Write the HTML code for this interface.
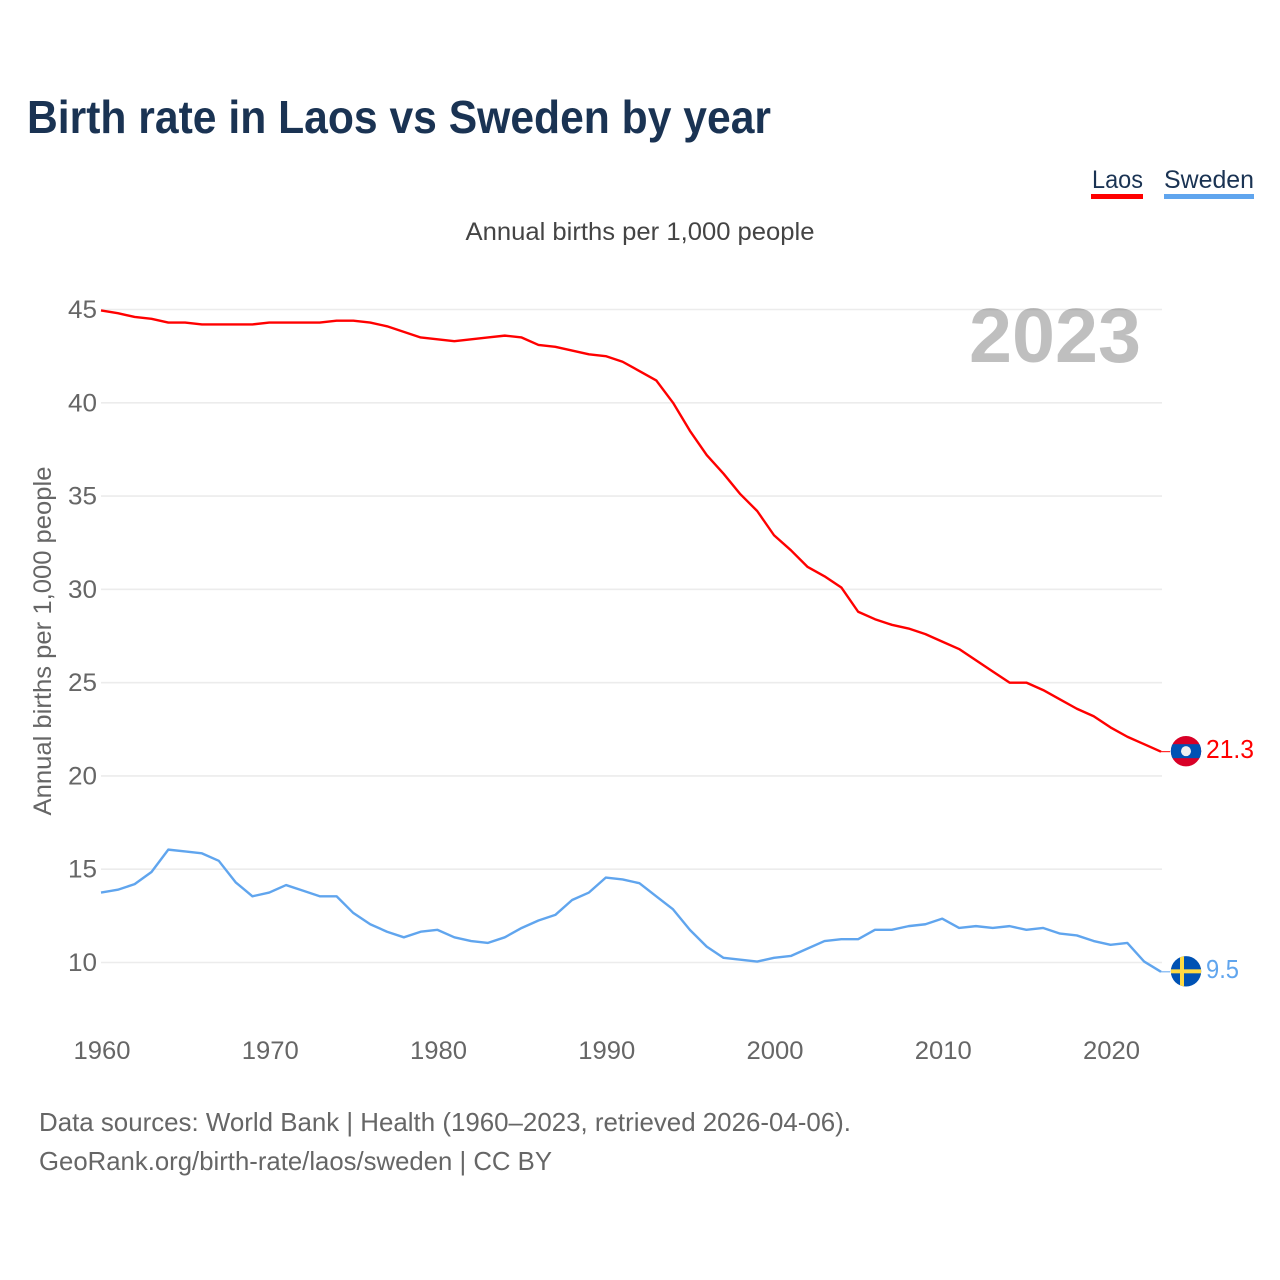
<!DOCTYPE html>
<html lang="en">
<head>
<meta charset="utf-8">
<title>Birth rate in Laos vs Sweden by year</title>
<style>
html,body{margin:0;padding:0;background:#fff;width:1280px;height:1280px;overflow:hidden}
svg{display:block}
text{font-family:"Liberation Sans",sans-serif}
</style>
</head>
<body>
<svg id="chart" width="1280" height="1280" viewBox="0 0 1280 1280" xmlns="http://www.w3.org/2000/svg">
  <rect width="1280" height="1280" fill="#fff"/>
  <text x="27" y="133" font-size="46" font-weight="700" fill="#1a3353" textLength="744" lengthAdjust="spacingAndGlyphs">Birth rate in Laos vs Sweden by year</text>
  <g>
    <g>
      <text x="1092" y="188" font-size="25" fill="#1a3353" textLength="51" lengthAdjust="spacingAndGlyphs">Laos</text>
      <rect x="1091" y="194" width="52" height="5" fill="#ff0000"/>
    </g>
    <g>
      <text x="1164" y="188" font-size="25" fill="#1a3353" textLength="90" lengthAdjust="spacingAndGlyphs">Sweden</text>
      <rect x="1164" y="194" width="90" height="5" fill="#60a5ee"/>
    </g>
  </g>
  <text x="640" y="240" font-size="25" fill="#444" text-anchor="middle" textLength="349" lengthAdjust="spacingAndGlyphs">Annual births per 1,000 people</text>
  <text transform="translate(51,641) rotate(-90)" font-size="25" fill="#666" text-anchor="middle" textLength="349" lengthAdjust="spacingAndGlyphs">Annual births per 1,000 people</text>
  <g id="grid"></g>
  <text x="1141" y="362" font-size="77" font-weight="700" fill="#000" fill-opacity="0.25" text-anchor="end" textLength="172" lengthAdjust="spacingAndGlyphs">2023</text>
  <g id="yticks"></g>
  <g id="xticks"></g>
  <g id="series"></g>
  <g id="ends"></g>
  <text x="39" y="1131" font-size="26" fill="#666" textLength="812" lengthAdjust="spacingAndGlyphs">Data sources: World Bank | Health (1960–2023, retrieved 2026-04-06).</text>
  <text x="39" y="1170" font-size="26" fill="#666" textLength="513" lengthAdjust="spacingAndGlyphs">GeoRank.org/birth-rate/laos/sweden | CC BY</text>
</svg>
<script>
const startYear = 1960;
const yTickValues = [10, 15, 20, 25, 30, 35, 40, 45];
const xTickValues = [1960, 1970, 1980, 1990, 2000, 2010, 2020];
const laosValues = [44.95,44.8,44.6,44.5,44.3,44.3,44.2,44.2,44.2,44.2,44.3,44.3,44.3,44.3,44.4,44.4,44.3,44.1,43.8,43.5,43.4,43.3,43.4,43.5,43.6,43.5,43.1,43.0,42.8,42.6,42.5,42.2,41.7,41.2,40.0,38.5,37.2,36.2,35.1,34.2,32.9,32.1,31.2,30.7,30.1,28.8,28.4,28.1,27.9,27.6,27.2,26.8,26.2,25.6,25.0,25.0,24.6,24.1,23.6,23.2,22.6,22.1,21.7,21.3];
const swedenValues = [13.75,13.9,14.2,14.85,16.05,15.95,15.85,15.45,14.3,13.55,13.75,14.15,13.85,13.55,13.55,12.65,12.05,11.65,11.35,11.65,11.75,11.35,11.15,11.05,11.35,11.85,12.25,12.55,13.35,13.75,14.55,14.45,14.25,13.55,12.85,11.75,10.85,10.25,10.15,10.05,10.25,10.35,10.75,11.15,11.25,11.25,11.75,11.75,11.95,12.05,12.35,11.85,11.95,11.85,11.95,11.75,11.85,11.55,11.45,11.15,10.95,11.05,10.05,9.5];

const NS = 'http://www.w3.org/2000/svg';
function xScale(year) { return 101 + (year - 1960) * (1060 / 63); }
function yScale(v) { return 962.5 - (v - 10) * (653 / 35); }
function make(tag, attrs, parent, text) {
  const el = document.createElementNS(NS, tag);
  for (const k in attrs) el.setAttribute(k, attrs[k]);
  if (text !== undefined) el.textContent = text;
  parent.appendChild(el);
  return el;
}

const grid = document.getElementById('grid');
const yticks = document.getElementById('yticks');
const xticks = document.getElementById('xticks');
const series = document.getElementById('series');
const ends = document.getElementById('ends');

yTickValues.forEach(function (v) {
  const line = make('line', {x1: 101, x2: 1162, y1: yScale(v), y2: yScale(v), stroke: '#ececec', 'stroke-width': 1.6}, grid);
  
  
  const label = make('text', {x: 97, y: yScale(v) + 8.5, 'font-size': 25, fill: '#666', 'text-anchor': 'end', textLength: 29, lengthAdjust: 'spacingAndGlyphs'}, yticks, String(v));
  
  
});

xTickValues.forEach(function (year) {
  const label = make('text', {x: xScale(year) + 1, y: 1059, 'font-size': 25, fill: '#666', 'text-anchor': 'middle', textLength: 57, lengthAdjust: 'spacingAndGlyphs'}, xticks, String(year));
  
  
});

function pathFor(values) {
  return values.map(function (v, i) {
    return (i ? 'L' : 'M') + xScale(startYear + i).toFixed(2) + ' ' + yScale(v).toFixed(2);
  }).join(' ');
}

const laosLine = make('path', {d: pathFor(laosValues), fill: 'none', stroke: '#ff0000', 'stroke-width': 2.4, 'stroke-linejoin': 'round'}, series);


const swedenLine = make('path', {d: pathFor(swedenValues), fill: 'none', stroke: '#60a5ee', 'stroke-width': 2.4, 'stroke-linejoin': 'round'}, series);



const lastX = xScale(startYear + laosValues.length - 1);
const flagX = lastX + 25;
const laosLast = laosValues[laosValues.length - 1];
const swedenLast = swedenValues[swedenValues.length - 1];
const ly = yScale(laosLast);
const sy = yScale(swedenLast);

const laosConnector = make('line', {x1: lastX, x2: lastX + 9, y1: ly, y2: ly, stroke: '#ff0000', 'stroke-width': 1}, ends);


const swedenConnector = make('line', {x1: lastX, x2: lastX + 9, y1: sy, y2: sy, stroke: '#60a5ee', 'stroke-width': 1}, ends);



const clips = make('defs', {}, ends);
const c1 = make('clipPath', {id: 'clip-laos'}, clips);
make('circle', {cx: flagX, cy: ly - 0.5, r: 15.2}, c1);
const c2 = make('clipPath', {id: 'clip-sweden'}, clips);
make('circle', {cx: flagX, cy: sy - 0.5, r: 15.2}, c2);

const laosFlag = make('g', {'clip-path': 'url(#clip-laos)'}, ends);


make('rect', {x: flagX - 16, y: ly - 16, width: 32, height: 32, fill: '#d80027'}, laosFlag);
make('rect', {x: flagX - 16, y: ly - 7.5, width: 32, height: 14, fill: '#0052b4'}, laosFlag);
make('circle', {cx: flagX, cy: ly - 0.5, r: 5, fill: '#f0f0f0'}, laosFlag);

const swedenFlag = make('g', {'clip-path': 'url(#clip-sweden)'}, ends);


make('rect', {x: flagX - 16, y: sy - 16, width: 32, height: 32, fill: '#0052b4'}, swedenFlag);
make('rect', {x: flagX - 6, y: sy - 16, width: 4, height: 32, fill: '#ffda44'}, swedenFlag);
make('rect', {x: flagX - 16, y: sy - 2.5, width: 32, height: 4, fill: '#ffda44'}, swedenFlag);

const laosLabel = make('text', {x: 1206, y: ly + 6.5, 'font-size': 26, fill: '#ff0000', textLength: 48, lengthAdjust: 'spacingAndGlyphs'}, ends, laosLast.toFixed(1));


const swedenLabel = make('text', {x: 1206, y: sy + 6, 'font-size': 26, fill: '#60a5ee', textLength: 33, lengthAdjust: 'spacingAndGlyphs'}, ends, swedenLast.toFixed(1));


</script>
</body>
</html>
